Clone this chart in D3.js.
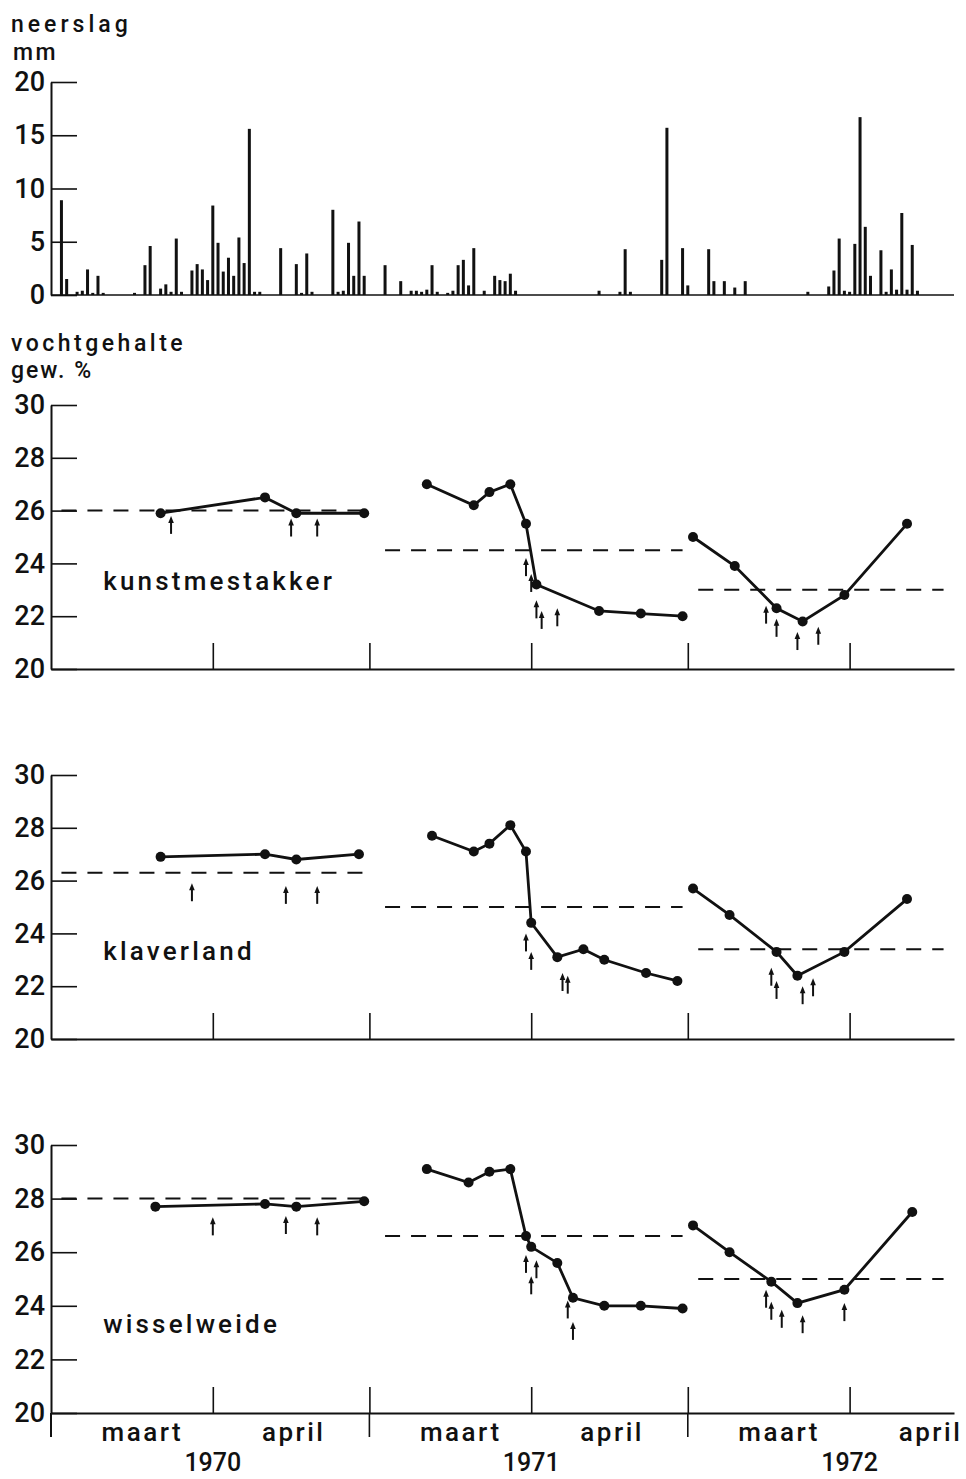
<!DOCTYPE html>
<html>
<head>
<meta charset="utf-8">
<script src="https://cdn.jsdelivr.net/npm/d3@7"></script>
<style>
  body { margin: 0; background: #fff; }
  text { font-family: Roboto, "DejaVu Sans", sans-serif; font-weight: 500; fill: #111; }
</style>
</head>
<body>
<svg id="chart" width="966" height="1479"></svg>
<script>

// ---- data ----
const years = ["1970", "1971", "1972"];
const months = ["maart", "april"];
const periodDays = 61;            // 1 maart .. 30 april
const rainTicks = [0, 5, 10, 15, 20];
const moistTicks = [20, 22, 24, 26, 28, 30];
const fields = ["kunstmestakker", "klaverland", "wisselweide"];

// neerslag: [dag vanaf 1 maart, mm]
const rain1970 = [[2,8.9],[3,1.5],[5,0.3],[6,0.4],[7,2.4],[8,0.2],[9,1.8],[10,0.2],[16,0.2],[18,2.8],[19,4.6],
  [21,0.6],[22,1.0],[23,0.3],[24,5.3],[25,0.3],[27,2.3],[28,2.9],[29,2.4],[30,1.4],[31,8.4],[32,4.9],[33,2.2],
  [34,3.5],[35,1.8],[36,5.4],[37,3.0],[38,15.6],[39,0.3],[40,0.3],[44,4.4],[47,2.9],[48,0.2],[49,3.9],[50,0.3],
  [54,8.0],[55,0.3],[56,0.4],[57,4.9],[58,1.8],[59,6.9],[60,1.8]];
const rain1971 = [[3,2.8],[6,1.3],[8,0.4],[9,0.4],[10,0.3],[11,0.5],[12,2.8],[13,0.3],[15,0.2],[16,0.4],[17,2.8],
  [18,3.3],[19,0.9],[20,4.4],[22,0.4],[24,1.8],[25,1.4],[26,1.3],[27,2.0],[28,0.4],[44,0.4],[48,0.3],[49,4.3],
  [50,0.3],[56,3.3],[57,15.7],[60,4.4]];
const rain1972 = [[0,0.9],[4,4.3],[5,1.3],[7,1.3],[9,0.7],[11,1.3],[23,0.3],[27,0.8],[28,2.3],[29,5.3],[30,0.4],
  [31,0.3],[32,4.8],[33,16.7],[34,6.4],[35,1.8],[37,4.2],[38,0.3],[39,2.4],[40,0.5],[41,7.7],[42,0.5],[43,4.7],[44,0.4]];

// vochtgehalte (gew. %): [dag, waarde]
const kunst1970 = [[21,25.9],[41,26.5],[47,25.9],[60,25.9]];
const kunst1971 = [[11,27.0],[20,26.2],[23,26.7],[27,27.0],[30,25.5],[32,23.2],[44,22.2],[52,22.1],[60,22.0]];
const kunst1972 = [[1,25.0],[9,23.9],[17,22.3],[22,21.8],[30,22.8],[42,25.5]];
const klaver1970 = [[21,26.9],[41,27.0],[47,26.8],[59,27.0]];
const klaver1971 = [[12,27.7],[20,27.1],[23,27.4],[27,28.1],[30,27.1],[31,24.4],[36,23.1],[41,23.4],[45,23.0],[53,22.5],[59,22.2]];
const klaver1972 = [[1,25.7],[8,24.7],[17,23.3],[21,22.4],[30,23.3],[42,25.3]];
const wissel1970 = [[20,27.7],[41,27.8],[47,27.7],[60,27.9]];
const wissel1971 = [[11,29.1],[19,28.6],[23,29.0],[27,29.1],[30,26.6],[31,26.2],[36,25.6],[39,24.3],[45,24.0],[52,24.0],[60,23.9]];
const wissel1972 = [[1,27.0],[8,26.0],[16,24.9],[21,24.1],[30,24.6],[43,27.5]];

// pijltjes: [dag, hoogte van de punt]
const kunstArrows1970 = [[23,25.8],[46,25.7],[51,25.7]];
const kunstArrows1971 = [[30,24.2],[31,23.6],[32,22.6],[33,22.2],[36,22.3]];
const kunstArrows1972 = [[15,22.4],[17,21.9],[21,21.4],[25,21.6]];
const klaverArrows1970 = [[27,25.9],[45,25.8],[51,25.8]];
const klaverArrows1971 = [[30,24.0],[31,23.3],[37,22.5],[38,22.4]];
const klaverArrows1972 = [[16,22.7],[17,22.2],[22,22.0],[24,22.3]];
const wisselArrows1970 = [[31,27.3],[45,27.35],[51,27.3]];
const wisselArrows1971 = [[30,25.9],[31,25.1],[32,25.7],[38,24.2],[39,23.4]];
const wisselArrows1972 = [[15,24.6],[16,24.15],[18,23.85],[22,23.65],[30,24.1]];

// gestreepte lijnen per jaar
const kunstMean = [26.0, 24.5, 23.0];
const klaverMean = [26.3, 25.0, 23.4];
const wisselMean = [28.0, 26.6, 25.0];
const meanSpans = [[2, 61], [3, 60], [2, 49]];

const series = [[kunst1970, kunst1971, kunst1972], [klaver1970, klaver1971, klaver1972], [wissel1970, wissel1971, wissel1972]];
const arrows = [[kunstArrows1970, kunstArrows1971, kunstArrows1972], [klaverArrows1970, klaverArrows1971, klaverArrows1972],
  [wisselArrows1970, wisselArrows1971, wisselArrows1972]];
const means = [kunstMean, klaverMean, wisselMean];
const rains = [rain1970, rain1971, rain1972];

// ---- layout ----
const svg = d3.select("#chart");
const axisX = 51;
const x = d3.scaleLinear().domain([0, 173]).range([axisX, 954]);
const dayX = (yi, d) => x(yi * periodDays + d);

const yRain = d3.scaleLinear().domain([0, 20]).range([295, 82]);
const panelRanges = [[669, 405], [1039, 775], [1413, 1145]];

function styleAxis(g) {
  g.select(".domain").attr("stroke", "#111").attr("stroke-width", 2);
  g.selectAll(".tick line").attr("stroke", "#111").attr("stroke-width", 1.6);
  g.selectAll(".tick text").attr("font-size", 27).attr("fill", "#111")
    .style("font-family", "Roboto, 'DejaVu Sans', sans-serif").style("font-weight", 500);
}

// ---- neerslag ----
svg.append("g")
  .attr("transform", "translate(" + axisX + ",0)")
  .call(d3.axisLeft(yRain).tickValues(rainTicks).tickSize(-26).tickSizeOuter(0).tickPadding(6))
  .call(styleAxis);

svg.append("line")
  .attr("x1", x(0)).attr("x2", x(173))
  .attr("y1", yRain(0)).attr("y2", yRain(0))
  .attr("stroke", "#111").attr("stroke-width", 1.6);

rains.forEach(function(r, yi) {
  svg.append("g").selectAll("rect")
    .data(r)
    .join("rect")
    .attr("x", d => dayX(yi, d[0]) - 1.5)
    .attr("width", 3)
    .attr("y", d => yRain(d[1]))
    .attr("height", d => yRain(0) - yRain(d[1]))
    .attr("fill", "#111");
});

svg.append("text").attr("x", 11).attr("y", 32).attr("font-size", 23).attr("letter-spacing", 4).text("neerslag");
svg.append("text").attr("x", 13).attr("y", 60).attr("font-size", 23).attr("letter-spacing", 2.5).text("mm");
svg.append("text").attr("x", 11).attr("y", 351).attr("font-size", 23).attr("letter-spacing", 3.5).text("vochtgehalte");
svg.append("text").attr("x", 11).attr("y", 378).attr("font-size", 23).attr("letter-spacing", 2).text("gew. %");

// ---- vochtgehalte panelen ----
fields.forEach(function(field, fi) {
  const y = d3.scaleLinear().domain([20, 30]).range(panelRanges[fi]);
  const g = svg.append("g");

  g.append("g")
    .attr("transform", "translate(" + axisX + ",0)")
    .call(d3.axisLeft(y).tickValues(moistTicks).tickSize(-26).tickSizeOuter(0).tickPadding(6))
    .call(styleAxis);

  g.append("g")
    .attr("transform", "translate(0," + y(20) + ")")
    .call(d3.axisBottom(x).tickValues([31, 61, 92, 122, 153]).tickSize(-26).tickSizeOuter(0).tickFormat(""))
    .call(styleAxis);

  // gestreepte lijnen
  means[fi].forEach(function(m, yi) {
    g.append("line")
      .attr("x1", dayX(yi, meanSpans[yi][0])).attr("x2", dayX(yi, meanSpans[yi][1]))
      .attr("y1", y(m)).attr("y2", y(m))
      .attr("stroke", "#111").attr("stroke-width", 2)
      .attr("stroke-dasharray", "15,11");
  });

  series[fi].forEach(function(s, yi) {
    g.append("path")
      .datum(s)
      .attr("fill", "none")
      .attr("stroke", "#111")
      .attr("stroke-width", 2.8)
      .attr("d", d3.line().x(d => dayX(yi, d[0])).y(d => y(d[1])));

    g.append("g").selectAll("circle")
      .data(s)
      .join("circle")
      .attr("cx", d => dayX(yi, d[0]))
      .attr("cy", d => y(d[1]))
      .attr("r", 5)
      .attr("fill", "#111");
  });

  arrows[fi].forEach(function(a, yi) {
    const ag = g.append("g").selectAll("g")
      .data(a)
      .join("g")
      .attr("transform", d => "translate(" + dayX(yi, d[0]) + "," + y(d[1]) + ")");
    ag.append("line")
      .attr("x1", 0).attr("x2", 0).attr("y1", 4).attr("y2", 18)
      .attr("stroke", "#111").attr("stroke-width", 2);
    ag.append("path")
      .attr("d", "M-2.8,7L0,0L2.8,7Z")
      .attr("fill", "#111");
  });

  g.append("text")
    .attr("x", dayX(0, 10))
    .attr("y", y(23))
    .attr("font-size", 26)
    .attr("letter-spacing", 3.2)
    .text(field);

  // onderste paneel: jaargrenzen lopen door
  if (fi === fields.length - 1) {
    [0, periodDays, 2 * periodDays].forEach(function(d) {
      g.append("line")
        .attr("x1", x(d)).attr("x2", x(d))
        .attr("y1", y(20)).attr("y2", y(20) + 24)
        .attr("stroke", "#111").attr("stroke-width", d === 0 ? 2 : 1.6);
    });
  }
});

// ---- maand- en jaarlabels ----
const monthCenters = [17.5, 46.5];
years.forEach(function(yr, yi) {
  months.forEach(function(m, mi) {
    svg.append("text")
      .attr("x", dayX(yi, monthCenters[mi]))
      .attr("y", 1441)
      .attr("text-anchor", "middle")
      .attr("font-size", 26)
      .attr("letter-spacing", 2.5)
      .text(m);
  });
  svg.append("text")
    .attr("x", dayX(yi, 31))
    .attr("y", 1471)
    .attr("text-anchor", "middle")
    .attr("font-size", 25)
    .text(yr);
});

</script>
</body>
</html>
